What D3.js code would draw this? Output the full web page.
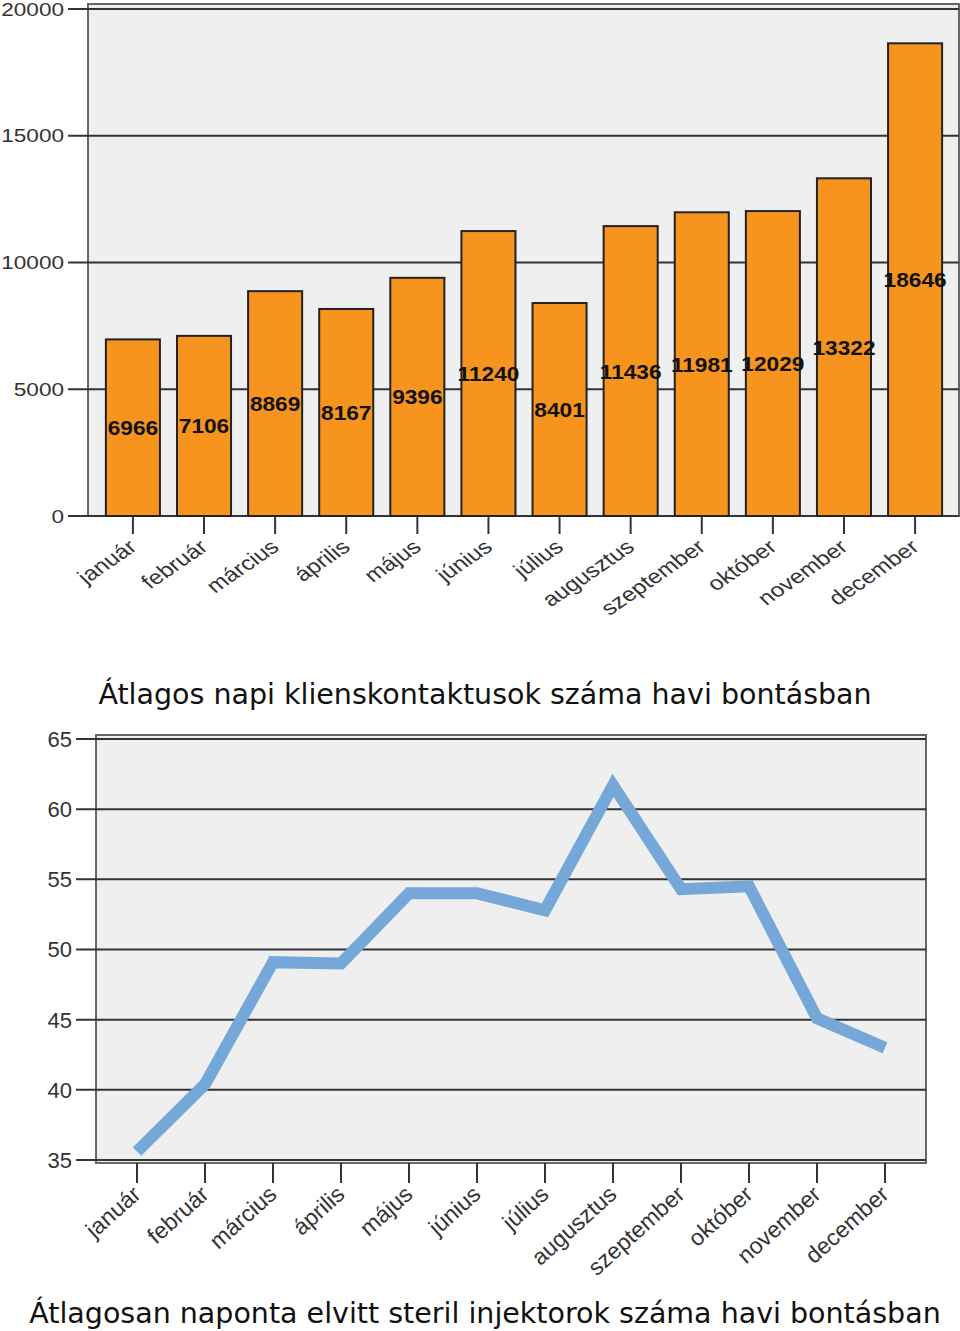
<!DOCTYPE html>
<html>
<head>
<meta charset="utf-8">
<script src="https://cdn.jsdelivr.net/npm/d3@7"></script>
<style>
  html, body { margin: 0; padding: 0; background: #fff; }
  svg { display: block; }
</style>
</head>
<body>
<svg id="chart" width="960" height="1331"></svg>
<script>
// ---- Data ----
const months = ["január","február","március","április","május","június","július","augusztus","szeptember","október","november","december"];
const contacts = [6966, 7106, 8869, 8167, 9396, 11240, 8401, 11436, 11981, 12029, 13322, 18646];
const barTicks = [0, 5000, 10000, 15000, 20000];
const syringes = [35.6, 40.4, 49.1, 49.0, 54.0, 54.0, 52.8, 61.7, 54.3, 54.5, 45.1, 43.0];
const lineTicks = [35, 40, 45, 50, 55, 60, 65];
const title1 = "Átlagos napi klienskontaktusok száma havi bontásban";
const title2 = "Átlagosan naponta elvitt steril injektorok száma havi bontásban";

const svg = d3.select("#chart");
const axisFont = "'Liberation Sans', Arial, sans-serif";
const titleFont = "'DejaVu Sans', Verdana, sans-serif";

// ================= Top bar chart =================
{
  const L = 88, R = 959, T = 4, B = 516;
  const y = d3.scaleLinear().domain([0, 20000]).range([516, 9]);
  const x = d3.scaleBand().domain(months).range([97, 951]).paddingInner(0.24).paddingOuter(0.125);
  const g = svg.append("g");
  const sx = 1.22;

  g.append("rect").attr("x", L).attr("y", T).attr("width", R - L).attr("height", B - T)
    .attr("fill", "#efefef").attr("stroke", "#666").attr("stroke-width", 2);

  g.selectAll("line.grid").data(barTicks).join("line")
    .attr("x1", 68).attr("x2", R).attr("y1", d => y(d)).attr("y2", d => y(d))
    .attr("stroke", "#333").attr("stroke-width", 2);
  g.selectAll("text.ytick").data(barTicks).join("text")
    .attr("transform", d => `translate(64,${y(d)}) scale(${sx},1)`)
    .attr("text-anchor", "end").attr("dy", "0.36em")
    .attr("font-family", axisFont).attr("font-size", 18.5).attr("fill", "#333")
    .text(d => d);

  g.selectAll("rect.bar").data(contacts).join("rect")
    .attr("x", (d, i) => x(months[i])).attr("width", x.bandwidth())
    .attr("y", d => y(d)).attr("height", d => y(0) - y(d))
    .attr("fill", "#f7941e").attr("stroke", "#222").attr("stroke-width", 2);

  g.selectAll("text.val").data(contacts).join("text")
    .attr("transform", (d, i) => `translate(${x(months[i]) + x.bandwidth() / 2},${(y(d) + y(0)) / 2}) scale(1.08,1)`)
    .attr("text-anchor", "middle").attr("dy", "0.36em")
    .attr("font-family", axisFont).attr("font-weight", "bold").attr("font-size", 21).attr("fill", "#111")
    .text(d => d);

  g.selectAll("line.xt").data(months).join("line")
    .attr("x1", d => x(d) + x.bandwidth() / 2).attr("x2", d => x(d) + x.bandwidth() / 2)
    .attr("y1", B).attr("y2", 534).attr("stroke", "#333").attr("stroke-width", 2);
  g.selectAll("text.xl").data(months).join("text")
    .attr("transform", d => `translate(${x(d) + x.bandwidth() / 2 - 6},${538}) scale(${sx},1) rotate(-40)`)
    .attr("text-anchor", "end").attr("dy", "0.72em")
    .attr("font-family", axisFont).attr("font-size", 20).attr("fill", "#333")
    .text(d => d);
}

// ================= Title 1 =================
svg.append("text").attr("x", 485).attr("y", 704).attr("text-anchor", "middle")
  .attr("font-family", titleFont).attr("font-size", 28.5).attr("fill", "#111").text(title1);

// ================= Bottom line chart =================
{
  const L = 96, R = 926, T = 735, B = 1163;
  const y = d3.scaleLinear().domain([35, 65]).range([1160, 739]);
  const x = d3.scalePoint().domain(months).range([137, 885]);
  const g = svg.append("g");

  g.append("rect").attr("x", L).attr("y", T).attr("width", R - L).attr("height", B - T)
    .attr("fill", "#efefef").attr("stroke", "#666").attr("stroke-width", 2);

  g.selectAll("line.grid").data(lineTicks).join("line")
    .attr("x1", 76).attr("x2", R).attr("y1", d => y(d)).attr("y2", d => y(d))
    .attr("stroke", "#333").attr("stroke-width", 2);
  g.selectAll("text.ytick").data(lineTicks).join("text")
    .attr("x", 72).attr("y", d => y(d)).attr("dy", "0.36em").attr("text-anchor", "end")
    .attr("font-family", axisFont).attr("font-size", 22).attr("fill", "#333")
    .text(d => d);

  const line = d3.line().x((d, i) => x(months[i])).y(d => y(d));
  g.append("path").datum(syringes).attr("d", line)
    .attr("fill", "none").attr("stroke", "#75a7d9").attr("stroke-width", 12)
    .attr("stroke-linejoin", "miter").attr("stroke-miterlimit", 10);

  g.selectAll("line.xt").data(months).join("line")
    .attr("x1", d => x(d)).attr("x2", d => x(d))
    .attr("y1", B).attr("y2", 1183).attr("stroke", "#333").attr("stroke-width", 2);
  g.selectAll("text.xl").data(months).join("text")
    .attr("transform", d => `translate(${x(d) - 6},${1184}) rotate(-42)`)
    .attr("text-anchor", "end").attr("dy", "0.72em")
    .attr("font-family", axisFont).attr("font-size", 23).attr("fill", "#333")
    .text(d => d);
}

// ================= Title 2 =================
svg.append("text").attr("x", 485).attr("y", 1323).attr("text-anchor", "middle")
  .attr("font-family", titleFont).attr("font-size", 28.5).attr("fill", "#111").text(title2);
</script>
</body>
</html>
